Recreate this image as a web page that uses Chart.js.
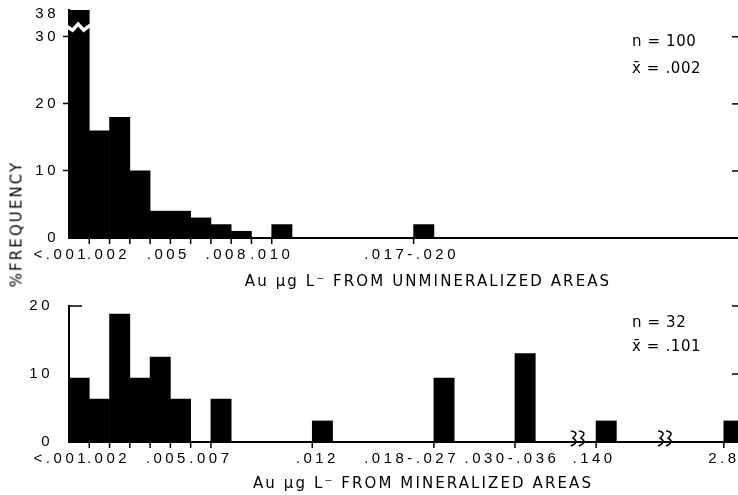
<!DOCTYPE html>
<html><head><meta charset="utf-8">
<script src="https://cdn.jsdelivr.net/npm/chart.js@4.4.1/dist/chart.umd.min.js"></script>
<style>
html,body{margin:0;padding:0;background:#fff;width:738px;height:495px;overflow:hidden;}
body{position:relative;font-family:"DejaVu Sans",sans-serif;color:#000;}
canvas{position:absolute;left:0;}
.t{position:absolute;white-space:nowrap;font-size:15px;letter-spacing:2.1px;line-height:1;transform:translate(-50%,-50%);}
.a{position:absolute;white-space:nowrap;font-size:15px;letter-spacing:0.6px;line-height:1;transform:translateY(-50%);}
</style></head><body>
<canvas id="top" width="738" height="275" style="top:0"></canvas>
<canvas id="bot" width="738" height="189" style="top:290px"></canvas>
<div class="t" style="left:17px;top:224px;transform:translate(-50%,-50%) rotate(-90deg);">%FREQUENCY</div>
<div class="t" style="left:428px;top:281px;">Au μg L⁻ FROM UNMINERALIZED AREAS</div>
<div class="t" style="left:423px;top:483px;">Au μg L⁻ FROM MINERALIZED AREAS</div>
<div class="a" style="left:632px;top:41px;">n = 100</div>
<div class="a" style="left:632px;top:68px;">x̄ = .002</div>
<div class="a" style="left:632px;top:322px;">n = 32</div>
<div class="a" style="left:632px;top:346px;">x̄ = .101</div>
<script>
// ---- Unmineralized areas (n = 100) ----
const topBins = [0, 1, 2, 3, 4, 5, 6, 7, 8, 10, 17];          // class index (0.001 µg/L steps)
const topPct  = [38, 16, 18, 10, 4, 4, 3, 2, 1, 2, 2];          // % frequency
const topTickLabels = ['<.001', '.002', '.005', '.008', '.010', '.017-.020'];
const topTickAt     = [0, 1.95, 4.9, 7.8, 10, 16.9];
const topTickEdges  = [1, 2, 3, 4, 5, 6, 7, 8, 9, 10, 17];
const topYTicks     = [0, 10, 20, 30];
const topYBreakLabel = '38';
const topYBreakAt    = 33.4;

// ---- Mineralized areas (n = 32) ----
const botBins = [0, 1, 2, 3, 4, 5, 7, 12, 18, 22, 26, 32.3];
const botPct  = [9.4, 6.3, 18.8, 9.4, 12.5, 6.3, 6.3, 3.1, 9.4, 13, 3.1, 3.1];
const botTickLabels = ['<.001', '.002', '.005', '.007', '.012', '.018-.027', '.030-.036', '.140', '2.8'];
const botTickAt     = [0, 1.95, 4.85, 7, 12.25, 16.9, 21.85, 25.9, 32.3];
const botTickEdges  = [1, 2, 3, 4, 5, 6, 7, 12, 18, 22, 26, 32.3];
const botYTicks     = [0, 10, 20];
const botBreaks     = [25.1, 29.4];

const FONT = {family: '"Liberation Sans", Arial, sans-serif', size: 15};
const LS = '3.5px';

const decor = {
  id: 'decor',
  beforeUpdate(chart) { chart.ctx.letterSpacing = LS; },
  beforeDraw(chart) { chart.ctx.letterSpacing = LS; },
  afterDraw(chart, args, o) {
    const {ctx, chartArea: a, scales: {x, y}} = chart;
    ctx.save();
    ctx.strokeStyle = '#000';
    ctx.lineWidth = 1.5;
    (o.edges || []).forEach(e => {
      const px = x.getPixelForValue(e);
      ctx.beginPath(); ctx.moveTo(px, a.bottom); ctx.lineTo(px, a.bottom + 6); ctx.stroke();
    });
    (o.rightTicks || []).forEach(v => {
      const py = y.getPixelForValue(v);
      ctx.beginPath(); ctx.moveTo(a.right - 6, py); ctx.lineTo(a.right, py); ctx.stroke();
    });
    (o.innerLeftTicks || []).forEach(v => {
      const py = y.getPixelForValue(v);
      ctx.beginPath(); ctx.moveTo(a.left, py); ctx.lineTo(a.left + 13, py); ctx.stroke();
    });
    if (o.breakBar) {
      const x0 = x.getPixelForValue(o.breakBar.from) - 4;
      const x1 = x.getPixelForValue(o.breakBar.to) + 1;
      const w = x1 - x0;
      const y0 = y.getPixelForValue(o.breakBar.at);
      ctx.strokeStyle = '#fff';
      ctx.lineWidth = 3.5;
      ctx.beginPath();
      ctx.moveTo(x0, y0 - 3);
      ctx.lineTo(x0 + 0.3 * w, y0 + 2);
      ctx.lineTo(x0 + 0.52 * w, y0 - 4);
      ctx.lineTo(x0 + 0.74 * w, y0 + 2);
      ctx.lineTo(x1, y0 - 3);
      ctx.stroke();
    }
    (o.breaks || []).forEach(b => {
      const cx = x.getPixelForValue(b);
      const by = a.bottom;
      ctx.strokeStyle = '#000';
      ctx.lineWidth = 1.5;
      [cx - 6, cx + 2].forEach(sx => {
        ctx.beginPath();
        ctx.moveTo(sx - 1, by - 11);
        ctx.quadraticCurveTo(sx + 8, by - 10, sx + 1, by - 4);
        ctx.quadraticCurveTo(sx + 8, by, sx - 1, by + 4);
        ctx.stroke();
      });
    });
    ctx.restore();
  }
};

function makeChart(id, c) {
  return new Chart(document.getElementById(id), {
    type: 'bar',
    data: {
      datasets: [{
        data: c.bins.map((b, i) => ({x: b + 0.5, y: c.pct[i]})),
        backgroundColor: '#000',
        borderWidth: 0,
        barPercentage: 1,
        categoryPercentage: 1
      }]
    },
    options: {
      responsive: false,
      animation: false,
      events: [],
      layout: {padding: {top: c.padTop, left: 0, right: 0, bottom: 0}},
      plugins: {legend: {display: false}, tooltip: {enabled: false}, decor: c.decor},
      scales: {
        x: {
          type: 'linear', min: 0, max: 33, offset: false,
          grid: {display: false, offset: false},
          border: {display: true, color: '#000', width: 2},
          afterBuildTicks: s => { s.ticks = c.tickAt.map(v => ({value: v})); },
          ticks: {
            autoSkip: false, maxRotation: 0, minRotation: 0, color: '#000', font: FONT, padding: 0,
            callback: (v, i) => i === 0 ? c.tickLabels[0] + '  ' : c.tickLabels[i]
          },
          afterFit: s => { s.height = 37; s.paddingLeft = 0; s.paddingRight = 0; }
        },
        y: {
          min: 0, max: c.yMax,
          grid: {
            display: c.outTicks, drawOnChartArea: false, drawTicks: true, tickLength: 6, tickWidth: 1.5,
            tickColor: ctx => (ctx.tick && ctx.tick.value > 0 && ctx.tick.value <= 30) ? '#000' : 'rgba(0,0,0,0)'
          },
          border: {display: true, color: '#000', width: 2},
          afterBuildTicks: s => {
            s.ticks = c.yTicks.map(v => ({value: v}));
            if (c.breakLabel) s.ticks.push({value: c.breakAt});
          },
          ticks: {
            color: '#000', font: FONT, padding: c.outTicks ? 4 : 10,
            callback: (v, i) => i < c.yTicks.length ? String(c.yTicks[i]) : c.breakLabel
          },
          afterFit: s => { s.width = 69; s.paddingTop = 0; s.paddingBottom = 0; }
        }
      }
    },
    plugins: [decor]
  });
}

makeChart('top', {
  bins: topBins, pct: topPct, tickLabels: topTickLabels, tickAt: topTickAt,
  yTicks: topYTicks, breakLabel: topYBreakLabel, breakAt: topYBreakAt,
  yMax: 34, padTop: 10, outTicks: true,
  decor: {edges: topTickEdges, rightTicks: [10, 20, 30], breakBar: {from: 0, to: 1, at: 31.3}}
});

makeChart('bot', {
  bins: botBins, pct: botPct, tickLabels: botTickLabels, tickAt: botTickAt,
  yTicks: botYTicks, breakLabel: null, breakAt: null,
  yMax: 20, padTop: 16, outTicks: false,
  decor: {edges: botTickEdges, rightTicks: [10, 20], innerLeftTicks: [20], breaks: botBreaks}
});
</script>
</body></html>
